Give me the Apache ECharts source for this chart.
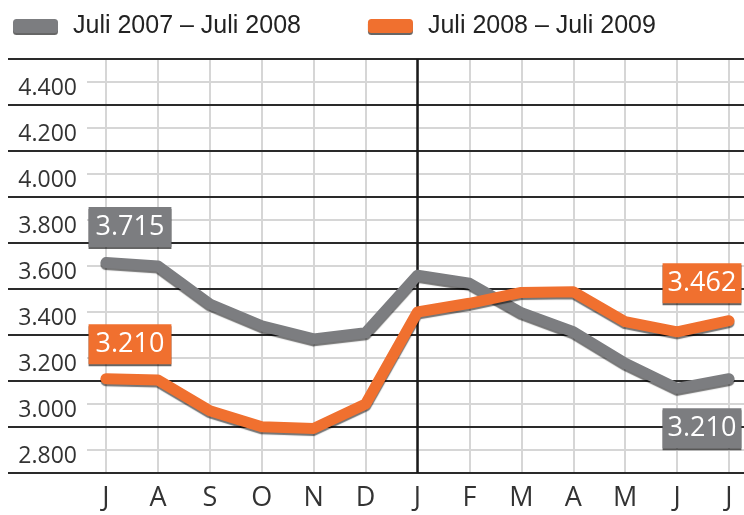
<!DOCTYPE html>
<html>
<head>
<meta charset="utf-8">
<script src="https://cdn.jsdelivr.net/npm/echarts@6/dist/echarts.min.js"></script>
<style>
  html, body { margin: 0; padding: 0; background: #fff; }
  #chart { width: 744px; height: 515px; }
</style>
</head>
<body>
<div id="chart"></div>
<script>
// months Juli .. Juli
const months = ['J', 'A', 'S', 'O', 'N', 'D', 'J', 'F', 'M', 'A', 'M', 'J', 'J'];
const seriesNames = ['Juli 2007 – Juli 2008', 'Juli 2008 – Juli 2009'];
const grayValues = [3715, 3700, 3535, 3440, 3383, 3410, 3660, 3625, 3497, 3414, 3277, 3168, 3210];
const orangeValues = [3210, 3204, 3071, 3001, 2994, 3100, 3500, 3538, 3585, 3588, 3458, 3414, 3462];
const yLabels = ['2.800', '3.000', '3.200', '3.400', '3.600', '3.800', '4.000', '4.200', '4.400'];
const yMin = 2800, yMax = 4600, yStep = 200;
const janIndex = 6;

const GRAY = '#7c7d80';
const ORANGE = '#f0702f';

var myChart = echarts.init(document.getElementById('chart'));

function boxLabel(color, pos, dist, dx, padX) {
  return {
    show: true,
    position: pos,
    distance: dist,
    offset: [dx, 0],
    formatter: (p) => (p.value / 1000).toFixed(3),
    color: '#fff',
    fontFamily: 'Open Sans',
    fontSize: 27,
    lineHeight: 30,
    backgroundColor: color,
    padding: [5, padX, 5, padX],
    shadowColor: 'rgba(0,0,0,0.6)',
    shadowOffsetY: 2,
    shadowBlur: 0
  };
}

function withLabels(values, first, last) {
  return values.map((v, i) => {
    if (i === 0) return { value: v, label: first };
    if (i === values.length - 1) return { value: v, label: last };
    return v;
  });
}

const lineCommon = {
  type: 'line',
  xAxisIndex: 2,
  yAxisIndex: 2,
  symbol: 'circle',
  symbolSize: 1,
  showSymbol: true,
  silent: true,
  z: 2
};

var option = {
  animation: false,
  legend: {
    left: 8,
    top: 4,
    width: 736,
    icon: 'roundRect',
    itemWidth: 45,
    itemHeight: 14,
    itemGap: 67,
    itemStyle: { shadowColor: 'rgba(0,0,0,0.6)', shadowOffsetY: 2 },
    textStyle: {
      fontFamily: "'Liberation Sans Narrow', 'Liberation Sans', sans-serif",
      fontSize: 25,
      lineHeight: 34,
      color: '#222',
      padding: [0, 0, 0, 10]
    },
    data: seriesNames
  },
  grid: [
    { left: 8, right: 0, top: 59, bottom: 42 },
    { left: 87, right: 0, top: 59, bottom: 42 },
    { left: 106, right: 15, top: 59, bottom: 42 },
    // label grid, lifted so the labels sit above their lines
    { left: 87, right: 0, top: 42.5, bottom: 58.5 }
  ],
  xAxis: [
    { gridIndex: 0, type: 'value', show: false },
    { gridIndex: 1, type: 'value', show: false },
    {
      gridIndex: 2,
      type: 'category',
      data: months,
      boundaryGap: false,
      axisLine: { show: false },
      axisTick: { show: false },
      axisLabel: {
        margin: 12,
        fontFamily: 'Open Sans',
        fontSize: 27,
        color: '#333'
      },
      splitLine: { show: true, lineStyle: { color: '#d6d6d6', width: 2 } }
    },
    { gridIndex: 3, type: 'value', show: false }
  ],
  yAxis: [
    {
      gridIndex: 0,
      min: yMin, max: yMax, interval: yStep,
      axisLine: { show: false },
      axisTick: { show: false },
      axisLabel: { show: false },
      splitLine: { show: true, lineStyle: { color: '#2a2a2a', width: 2 } },
      z: 1
    },
    {
      gridIndex: 1,
      min: yMin, max: yMax, interval: yStep,
      axisLine: { show: false },
      axisTick: { show: false },
      axisLabel: { show: false },
      splitLine: { show: false },
      minorTick: { show: false, splitNumber: 2 },
      minorSplitLine: { show: true, lineStyle: { color: '#d6d6d6', width: 2 } }
    },
    {
      gridIndex: 2,
      min: yMin, max: yMax, interval: yStep,
      show: false,
      splitLine: { show: false }
    },
    {
      gridIndex: 3,
      min: yMin, max: yMax, interval: yStep,
      axisLine: { show: false },
      axisTick: { show: false },
      splitLine: { show: false },
      axisLabel: {
        showMaxLabel: false,
        margin: 10,
        fontFamily: 'Open Sans',
        fontSize: 23,
        color: '#333',
        formatter: (v) => yLabels[(v - yMin) / yStep] || ''
      }
    }
  ],
  series: [
    Object.assign({}, lineCommon, {
      name: seriesNames[0],
      color: GRAY,
      lineStyle: {
        color: GRAY, width: 11, cap: 'round', join: 'round',
        shadowColor: 'rgba(0,0,0,0.55)', shadowOffsetY: 2, shadowBlur: 1
      },
      itemStyle: { color: GRAY },
      data: withLabels(grayValues,
        boxLabel(GRAY, 'top', 15, 24, 7),
        boxLabel(GRAY, 'bottom', 29, -27, 5)),
      markLine: {
        silent: true,
        symbol: 'none',
        z: 1,
        label: { show: false },
        lineStyle: { color: '#1a1a1a', width: 2.5, type: 'solid' },
        data: [{ xAxis: janIndex }]
      }
    }),
    Object.assign({}, lineCommon, {
      name: seriesNames[1],
      color: ORANGE,
      lineStyle: {
        color: ORANGE, width: 11, cap: 'round', join: 'round',
        shadowColor: 'rgba(0,0,0,0.55)', shadowOffsetY: 2, shadowBlur: 1
      },
      itemStyle: { color: ORANGE },
      data: withLabels(orangeValues,
        boxLabel(ORANGE, 'top', 14, 24, 7),
        boxLabel(ORANGE, 'top', 17, -27, 5))
    })
  ]
};

myChart.setOption(option);
</script>
</body>
</html>
